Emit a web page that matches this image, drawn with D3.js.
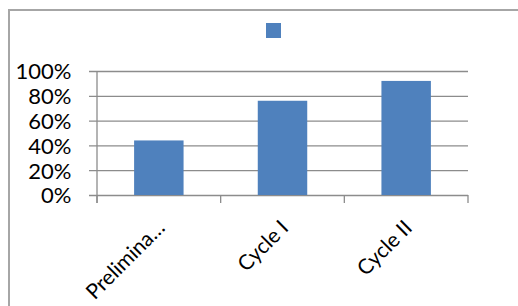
<!DOCTYPE html>
<html><head><meta charset="utf-8">
<script src="https://cdn.jsdelivr.net/npm/d3@7"></script>
<style>html,body{margin:0;padding:0;background:#fff;}svg{display:block;}</style>
</head><body>
<svg id="c" width="518" height="306"></svg>
<script>
const categories = ["Prelimina…", "Cycle I", "Cycle II"];
const values = [0.44, 0.76, 0.92];
const yTicks = [0, 0.2, 0.4, 0.6, 0.8, 1.0];

(function () {
const svg = d3.select("#c");
const font = "Lato, 'Open Sans', 'Liberation Sans', sans-serif";
const pL = 97, pR = 468, pT = 71, pB = 195;

// outer border
svg.append("path").attr("d", "M9,306 L9,10 L518,10")
  .attr("fill", "none").attr("stroke", "#a6a6a6").attr("stroke-width", 2);

const x = d3.scaleBand().domain(categories).range([pL, pR]).paddingInner(0.6).paddingOuter(0.3);
const y = d3.scaleLinear().domain([0, 1]).range([pB, pT]);

// gridlines + y axis
const yAxis = d3.axisLeft(y).tickValues(yTicks).tickSize(-(pR - pL)).tickPadding(0)
  .tickFormat(d3.format(".0%"));
const gy = svg.append("g").attr("transform", `translate(${pL},0)`).call(yAxis);
gy.select(".domain").remove();
gy.selectAll(".tick line").attr("x1", -8).attr("stroke", "#8c8c8c").attr("stroke-width", 1.3);
gy.selectAll(".tick text").attr("x", -25.5).attr("dy", "0.36em")
  .style("font-family", font).style("font-size", "22px").attr("fill", "#000");

// vertical axis line
svg.append("line").attr("x1", pL).attr("x2", pL).attr("y1", pT).attr("y2", pB + 8)
  .attr("stroke", "#8c8c8c").attr("stroke-width", 1.3);

// x axis ticks at band boundaries
const half = (x.step() - x.bandwidth()) / 2;
const bounds = categories.map(c => x(c) - half);
bounds.push(x(categories[categories.length - 1]) + x.bandwidth() + half);
svg.selectAll(".xt").data(bounds).enter().append("line")
  .attr("x1", d => d).attr("x2", d => d).attr("y1", pB).attr("y2", pB + 8)
  .attr("stroke", "#8c8c8c").attr("stroke-width", 1.3);

// bars
svg.selectAll(".bar").data(values).enter().append("rect")
  .attr("x", (d, i) => x(categories[i])).attr("width", x.bandwidth())
  .attr("y", d => y(d)).attr("height", d => pB - y(d))
  .attr("fill", "#4F81BD");

// x labels
svg.selectAll(".xl").data(categories).enter().append("text")
  .attr("transform", d => `translate(${x(d) + x.bandwidth() / 2 + 2},${pB + 29}) rotate(-45)`)
  .attr("text-anchor", "end").attr("dy", "0.35em")
  .style("font-family", font).style("font-size", "21px").attr("fill", "#000")
  .text(d => d);

// legend marker (no label)
svg.append("rect").attr("x", 266).attr("y", 23).attr("width", 15).attr("height", 15).attr("fill", "#4F81BD");
})();
</script>
</body></html>
